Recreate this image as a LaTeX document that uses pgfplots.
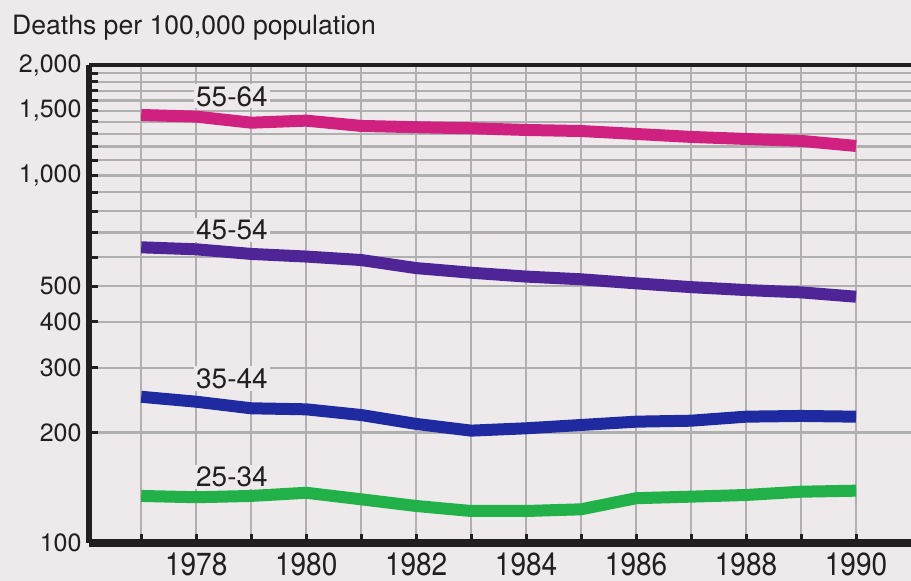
\documentclass[border=0pt]{standalone}
\usepackage{fontspec}
\setmainfont{TeX Gyre Heros}
\usepackage{graphicx}
\usepackage{pgfplots}
\pgfplotsset{compat=1.18}
\definecolor{paper}{RGB}{238,233,234}
\definecolor{gridc}{RGB}{176,176,176}
\definecolor{axisc}{RGB}{35,31,32}
\definecolor{cA}{RGB}{208,32,128}
\definecolor{cB}{RGB}{78,36,150}
\definecolor{cC}{RGB}{32,42,160}
\definecolor{cD}{RGB}{34,176,72}
\newcommand{\tl}[1]{\scalebox{1}[1.14]{#1}}
\begin{document}
\begin{tikzpicture}
\fill[paper] (0bp,0bp) rectangle (911bp,581bp);
\useasboundingbox (0bp,0bp) rectangle (911bp,581bp);
\node[anchor=base west, font=\fontsize{26.6bp}{30bp}\selectfont, text=axisc, inner sep=0pt] at (12bp,546bp) {Deaths per 100,000 population};
\begin{axis}[
  at={(89bp,38bp)}, anchor=south west, scale only axis,
  width=822bp, height=478bp,
  xmin=1976.05, xmax=1991,
  ymode=log, ymin=100, ymax=2000,
  clip=false,
  axis x line*=bottom, axis y line*=left,
  x axis line style={-, line width=8bp, color=axisc},
  y axis line style={-, line width=6bp, color=axisc},
  xtick={1978,1980,...,1990},
  minor xtick={1977,1979,...,1989},
  xticklabels={\tl{1978},\tl{1980},\tl{1982},\tl{1984},\tl{1986},\tl{1988},\tl{1990}},
  ytick={100,200,300,400,500,1000,1500,2000},
  yticklabels={100,200,300,400,500,{1,000},{1,500},{2,000}},
  minor ytick={600,700,800,900,1100,1200,1300,1400,1600,1700,1800,1900},
  grid=both,
  major grid style={gridc, line width=2.2bp},
  minor grid style={gridc, line width=2.2bp},
  tick align=inside,
  major tick length=9bp, minor tick length=9bp,
  tick style={axisc, line width=3bp},
  xticklabel style={font=\fontsize{28bp}{30bp}\selectfont, text=axisc, yshift=-6bp},
  yticklabel style={font=\fontsize{25bp}{28bp}\selectfont, text=axisc, xshift=-4bp},
]
\draw[axisc, line width=4bp] (rel axis cs:0,1) -- (rel axis cs:1,1);
\addplot[cA, line width=12bp, line join=round] coordinates {
(1977,1462) (1978,1447) (1979,1393) (1980,1411) (1981,1365) (1982,1354) (1983,1345)
(1984,1331) (1985,1322) (1986,1298) (1987,1274) (1988,1258) (1989,1243) (1990,1204)};
\addplot[cB, line width=12bp, line join=round] coordinates {
(1977,638) (1978,630) (1979,612) (1980,602) (1981,589) (1982,560) (1983,544)
(1984,531) (1985,522) (1986,509) (1987,497) (1988,488) (1989,481) (1990,468)};
\addplot[cC, line width=12bp, line join=round] coordinates {
(1977,250) (1978,242.4) (1979,232.6) (1980,231.1) (1981,223.0) (1982,210.9) (1983,202.2)
(1984,205.2) (1985,209.5) (1986,213.9) (1987,215.2) (1988,220.7) (1989,221.7) (1990,220.7)};
\addplot[cD, line width=12bp, line join=round] coordinates {
(1977,134.3) (1978,133.2) (1979,134.3) (1980,137.0) (1981,131.5) (1982,126.1) (1983,122.2)
(1984,122.2) (1985,123.5) (1986,132.4) (1987,133.7) (1988,135.1) (1989,137.9) (1990,138.8)};
\begin{scope}[every node/.style={font=\fontsize{28bp}{30bp}\selectfont, text=axisc, fill=paper, inner sep=2bp, anchor=base}]
\node at (axis cs:1978.65,1546) {55-64};
\node at (axis cs:1978.65,668) {45-54};
\node at (axis cs:1978.65,264) {35-44};
\node at (axis cs:1978.65,142.3) {25-34};
\end{scope}
\end{axis}
\end{tikzpicture}
\end{document}
